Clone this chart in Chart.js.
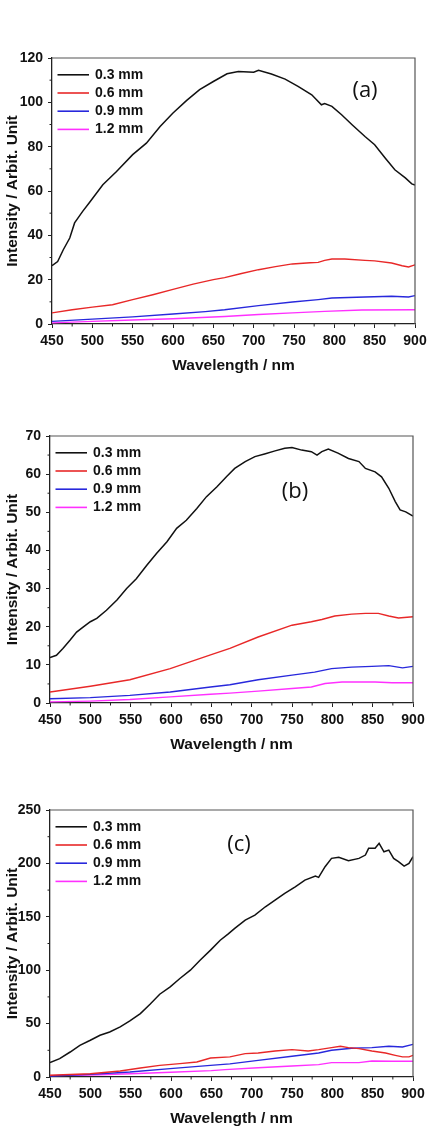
<!DOCTYPE html>
<html>
<head>
<meta charset="utf-8">
<script src="https://cdn.jsdelivr.net/npm/chart.js@4.4.1/dist/chart.umd.min.js"></script>
<style>
  body { margin: 0; background: #fff; width: 427px; height: 1128px; position: relative; overflow: hidden; }
  .panel { position: absolute; left: 0; width: 427px; height: 350px; }
</style>
</head>
<body>
<div class="panel" style="top:30px"><canvas id="chartA" width="427" height="350"></canvas></div>
<div class="panel" style="top:408px"><canvas id="chartB" width="427" height="350"></canvas></div>
<div class="panel" style="top:778px"><canvas id="chartC" width="427" height="350"></canvas></div>
<script>
// series names (sample thickness)
var seriesNames = ["0.3 mm", "0.6 mm", "0.9 mm", "1.2 mm"];
var seriesColors = ["#111111", "#e82828", "#2828dc", "#ff30ff"];

// ---- panel (a) ----
var aWl03 = [450,457,464,472,478,488,496,513,530,550,567,584,600,617,633,650,667,681,700,706,722,739,755,772,784,788,797,809,822,838,850,863,875,888,896,900];
var aInt03 = [26.3,28.2,33.5,38.8,45.6,50.8,54.6,62.8,68.8,76.4,81.6,89.1,95.2,100.9,105.7,109.4,112.9,113.9,113.6,114.5,112.8,110.5,107.2,103.4,98.9,99.4,98.2,94.4,89.9,84.6,80.9,74.9,69.6,65.9,63.2,62.7];
var aWl06 = [450,475,500,525,550,575,600,625,650,664,685,706,727,748,770,780,788,797,813,838,850,871,884,892,900];
var aInt06 = [5.0,6.4,7.6,8.7,11.0,13.2,15.6,18.0,20.0,20.9,22.8,24.5,25.9,27.1,27.6,27.8,28.7,29.3,29.3,28.7,28.5,27.5,26.3,25.7,26.7];
var aWl09 = [450,500,550,600,640,664,706,748,780,797,838,871,892,900];
var aInt09 = [1.2,2.2,3.2,4.5,5.6,6.4,8.3,9.9,11.0,11.7,12.2,12.5,12.2,12.8];
var aWl12 = [450,500,550,600,664,706,748,788,834,900];
var aInt12 = [0.5,1.2,1.8,2.4,3.4,4.3,5.0,5.7,6.3,6.4];

// ---- panel (b) ----
var bWl03 = [450,458,466,475,483,491,500,508,520,533,545,557,570,582,595,607,619,632,644,657,669,679,692,704,716,729,741,750,762,774,781,787,795,807,820,833,841,853,861,870,878,884,891,900];
var bInt03 = [11.9,12.5,14.3,16.5,18.6,19.9,21.3,22.2,24.3,27.0,30.0,32.6,36.1,39.2,42.3,45.8,47.9,51.0,54.1,56.7,59.4,61.5,63.3,64.6,65.3,66.1,66.8,67.0,66.3,65.9,65.0,65.9,66.6,65.5,64.1,63.3,61.5,60.6,59.3,56.3,52.8,50.6,50.1,49.0];
var bWl06 = [450,500,549,599,649,673,708,750,774,787,803,824,841,857,870,882,900];
var bInt06 = [2.9,4.4,6.1,9.0,12.6,14.3,17.3,20.4,21.3,21.9,22.8,23.3,23.5,23.5,22.8,22.3,22.6];
var bWl09 = [450,500,549,599,649,673,708,750,778,799,824,849,870,887,900];
var bInt09 = [1.1,1.4,2.0,2.9,4.2,4.8,6.1,7.3,8.1,9.0,9.4,9.6,9.8,9.2,9.6];
var bWl12 = [450,500,549,599,649,673,708,750,774,791,812,853,874,900];
var bInt12 = [0.3,0.5,0.9,1.6,2.3,2.6,3.1,3.8,4.2,5.1,5.5,5.5,5.3,5.3];

// ---- panel (c) ----
var cWl03 = [450,462,475,487,500,512,524,537,549,562,574,586,599,611,624,636,649,661,671,679,692,704,717,729,741,754,766,779,783,791,799,808,820,833,841,845,853,858,864,870,876,882,889,895,900];
var cInt03 = [13.5,17.2,23.4,29.7,34.4,39.1,42.2,46.9,52.5,59.4,68.1,77.5,84.4,92.2,100,109.4,118.8,128.1,134,139.1,146.9,151.6,159.4,165.6,171.9,178.1,184.4,188.1,186.9,196.9,204.7,205.7,202.5,204.7,207.8,214.1,214.1,218.8,210.9,212.5,204.7,201.6,197.5,200,206.3];
var cWl06 = [450,500,537,562,586,611,632,649,673,692,708,729,750,770,783,799,810,820,833,849,866,878,887,895,900];
var cInt06 = [1.6,3.1,5.6,8.4,10.9,12.5,14.1,17.8,18.8,21.9,22.5,24.4,25.6,24.4,25.6,27.5,28.8,27.5,26.6,24.4,22.5,20.3,18.8,18.8,20.3];
var cWl09 = [450,500,549,599,649,673,708,750,783,799,824,849,870,887,900];
var cInt09 = [1.0,2.5,4.7,7.8,10.9,12.3,15.6,19.4,22.5,25.0,26.9,27.5,28.8,28.1,30.6];
var cWl12 = [450,500,550,600,650,667,708,750,783,799,833,849,874,900];
var cInt12 = [1.3,1.9,3.1,4.4,6.0,6.9,8.6,10.3,11.6,13.5,13.5,15.0,14.7,14.7];

// axis ticks
var xMin = 450, xMax = 900, xMajor = 50, xMinor = 25;

function pairs(xs, ys) {
  return xs.map(function (x, i) { return { x: x, y: ys[i] }; });
}

var tickFont = { family: "'Liberation Sans', Arial, sans-serif", size: 14, weight: "bold" };
var titleFont = { family: "'Liberation Sans', Arial, sans-serif", size: 15.5, weight: "bold" };

// frame, minor ticks, legend and panel tag
var decoPlugin = {
  id: "deco",
  afterDraw: function (chart) {
    var o = chart.options.plugins.deco;
    var ctx = chart.ctx;
    var a = chart.chartArea;
    var xs = chart.scales.x, ys = chart.scales.y;
    ctx.save();
    // top and right frame
    ctx.strokeStyle = "#555";
    ctx.lineWidth = 1.2;
    ctx.beginPath();
    ctx.moveTo(a.left, a.top);
    ctx.lineTo(a.right, a.top);
    ctx.lineTo(a.right, a.bottom);
    ctx.stroke();
    // minor ticks
    ctx.strokeStyle = "#222";
    ctx.lineWidth = 1;
    ctx.beginPath();
    for (var v = xMin + xMinor; v < xMax; v += xMajor) {
      var px = xs.getPixelForValue(v);
      ctx.moveTo(px, a.bottom);
      ctx.lineTo(px, a.bottom + 2.5);
    }
    for (var w = o.yMinor; w < o.yMax; w += o.yMajor) {
      var py = ys.getPixelForValue(w);
      ctx.moveTo(a.left - 2.5, py);
      ctx.lineTo(a.left, py);
    }
    ctx.stroke();
    // legend
    ctx.font = "bold 14px 'Liberation Sans', Arial, sans-serif";
    ctx.textBaseline = "middle";
    ctx.textAlign = "left";
    chart.data.datasets.forEach(function (ds, i) {
      var y = a.top + 16.8 + i * 18.2;
      ctx.strokeStyle = ds.borderColor;
      ctx.lineWidth = 1.6;
      ctx.beginPath();
      ctx.moveTo(a.left + 5.5, y);
      ctx.lineTo(a.left + 37, y);
      ctx.stroke();
      ctx.fillStyle = "#111";
      ctx.fillText(ds.label, a.left + 43, y);
    });
    // panel tag
    ctx.font = "22px 'Open Sans', sans-serif";
    ctx.textAlign = "center";
    ctx.fillStyle = "#111";
    ctx.fillText(o.tag, o.tagX, o.tagY - chart.canvas.parentNode.offsetTop);
    ctx.restore();
  }
};

function makePanel(id, canvasTop, plot, wls, ints, yMax, yMajor, yMinor, tag, tagX, tagY) {
  var canvasH = 350;
  var bottomH = canvasTop + canvasH - plot.b;
  var datasets = seriesNames.map(function (name, i) {
    return {
      label: name,
      data: pairs(wls[i], ints[i]),
      borderColor: seriesColors[i],
      backgroundColor: seriesColors[i],
      borderWidth: i === 0 ? 1.5 : 1.4,
      pointRadius: 0,
      tension: 0,
      fill: false
    };
  });
  new Chart(document.getElementById(id), {
    type: "line",
    data: { datasets: datasets },
    options: {
      responsive: false,
      animation: false,
      layout: { padding: { top: plot.t - canvasTop, right: 427 - plot.r, left: 0, bottom: 0 } },
      plugins: {
        legend: { display: false },
        tooltip: { enabled: false },
        deco: { yMax: yMax, yMajor: yMajor, yMinor: yMinor, tag: tag, tagX: tagX, tagY: tagY }
      },
      scales: {
        x: {
          type: "linear",
          min: xMin,
          max: xMax,
          ticks: { stepSize: xMajor, color: "#111", font: tickFont, padding: 5, maxRotation: 0, autoSkip: false },
          grid: { drawOnChartArea: false, drawTicks: true, tickLength: 4, tickColor: "#222" },
          border: { display: true, color: "#222", width: 1.3 },
          title: { display: true, text: "Wavelength / nm", color: "#111", font: titleFont,
                   padding: { top: 0, bottom: bottomH - 42 - 9.3 } },
          afterFit: function (s) { s.height = bottomH; s.paddingLeft = 0; s.paddingRight = 0; }
        },
        y: {
          type: "linear",
          min: 0,
          max: yMax,
          ticks: { stepSize: yMajor, color: "#111", font: tickFont, padding: 5 },
          grid: { drawOnChartArea: false, drawTicks: true, tickLength: 4, tickColor: "#222" },
          border: { display: true, color: "#222", width: 1.3 },
          title: { display: true, text: "Intensity / Arbit. Unit", color: "#111", font: titleFont,
                   padding: { top: 3, bottom: 0 } },
          afterFit: function (s) { s.width = plot.l; s.paddingTop = 0; s.paddingBottom = 0; }
        }
      }
    },
    plugins: [decoPlugin]
  });
}

makePanel("chartA", 30, { l: 52, r: 415, t: 58, b: 324 },
  [aWl03, aWl06, aWl09, aWl12], [aInt03, aInt06, aInt09, aInt12], 120, 20, 10, "(a)", 365, 91);
makePanel("chartB", 408, { l: 50, r: 413, t: 436, b: 703 },
  [bWl03, bWl06, bWl09, bWl12], [bInt03, bInt06, bInt09, bInt12], 70, 10, 5, "(b)", 295, 492);
makePanel("chartC", 778, { l: 50, r: 413, t: 810, b: 1077 },
  [cWl03, cWl06, cWl09, cWl12], [cInt03, cInt06, cInt09, cInt12], 250, 50, 25, "(c)", 239, 845);
</script>
</body>
</html>
